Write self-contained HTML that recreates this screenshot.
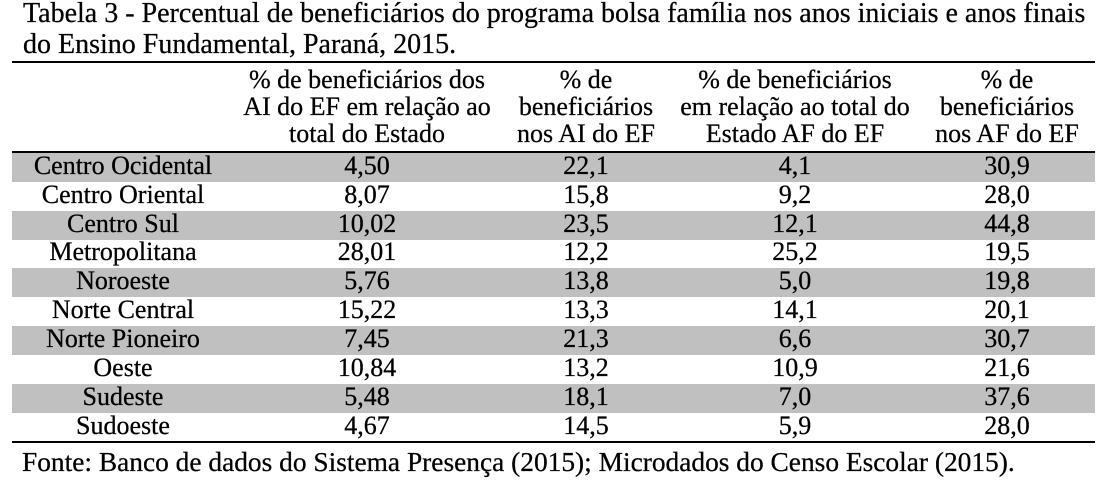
<!DOCTYPE html>
<html>
<head>
<meta charset="utf-8">
<style>
  html, body { margin:0; padding:0; background:#fff; }
  body { width:1103px; height:481px; position:relative; overflow:hidden;
         font-family:"Liberation Serif", "Times New Roman", serif; color:#000;
         -webkit-text-stroke:0.25px #000; }
  .abs { position:absolute; }
  .title { left:23px; top:-1px; font-size:28px; line-height:30.5px; white-space:nowrap; }
  .rule { position:absolute; left:12px; width:1083px; height:2px; background:#000; }
  .stripe { position:absolute; left:12px; width:1083px; height:28.9px; background:#c0c0c0; }
  .hdr { position:absolute; top:65.7px; font-size:26px; line-height:27px; text-align:center; white-space:nowrap; }
  .row { position:absolute; left:0; width:1103px; height:29px; font-size:26px; line-height:28.78px; }
  .row div { position:absolute; top:0; text-align:center; white-space:nowrap; }
  .c1 { left:13px; width:220px; }
  .c2 { left:237px; width:260px; }
  .c3 { left:506px; width:160px; }
  .c4 { left:670px; width:250px; }
  .c5 { left:927px; width:160px; }
  .foot { left:22px; top:446.5px; font-size:27.4px; line-height:30px; white-space:nowrap; }
</style>
</head>
<body>
  <div class="abs title">Tabela 3 - Percentual de beneficiários do programa bolsa família nos anos iniciais e anos finais<br>do Ensino Fundamental, Paraná, 2015.</div>

  <div class="rule" style="top:61px;"></div>

  <div class="hdr c2">% de beneficiários dos<br>AI do EF em relação ao<br>total do Estado</div>
  <div class="hdr c3">% de<br>beneficiários<br>nos AI do EF</div>
  <div class="hdr c4">% de beneficiários<br>em relação ao total do<br>Estado AF do EF</div>
  <div class="hdr c5">% de<br>beneficiários<br>nos AF do EF</div>

  <div class="rule" style="top:151px;"></div>

  <div class="stripe" style="top:153px;"></div>
  <div class="stripe" style="top:210.74px;"></div>
  <div class="stripe" style="top:268.48px;"></div>
  <div class="stripe" style="top:326.22px;"></div>
  <div class="stripe" style="top:383.96px;"></div>

  <div class="row" style="top:151.83px;"><div class="c1">Centro Ocidental</div><div class="c2">4,50</div><div class="c3">22,1</div><div class="c4">4,1</div><div class="c5">30,9</div></div>
  <div class="row" style="top:180.70px;"><div class="c1">Centro Oriental</div><div class="c2">8,07</div><div class="c3">15,8</div><div class="c4">9,2</div><div class="c5">28,0</div></div>
  <div class="row" style="top:209.57px;"><div class="c1">Centro Sul</div><div class="c2">10,02</div><div class="c3">23,5</div><div class="c4">12,1</div><div class="c5">44,8</div></div>
  <div class="row" style="top:238.44px;"><div class="c1">Metropolitana</div><div class="c2">28,01</div><div class="c3">12,2</div><div class="c4">25,2</div><div class="c5">19,5</div></div>
  <div class="row" style="top:267.31px;"><div class="c1">Noroeste</div><div class="c2">5,76</div><div class="c3">13,8</div><div class="c4">5,0</div><div class="c5">19,8</div></div>
  <div class="row" style="top:296.18px;"><div class="c1">Norte Central</div><div class="c2">15,22</div><div class="c3">13,3</div><div class="c4">14,1</div><div class="c5">20,1</div></div>
  <div class="row" style="top:325.05px;"><div class="c1">Norte Pioneiro</div><div class="c2">7,45</div><div class="c3">21,3</div><div class="c4">6,6</div><div class="c5">30,7</div></div>
  <div class="row" style="top:353.92px;"><div class="c1">Oeste</div><div class="c2">10,84</div><div class="c3">13,2</div><div class="c4">10,9</div><div class="c5">21,6</div></div>
  <div class="row" style="top:382.79px;"><div class="c1">Sudeste</div><div class="c2">5,48</div><div class="c3">18,1</div><div class="c4">7,0</div><div class="c5">37,6</div></div>
  <div class="row" style="top:411.66px;"><div class="c1">Sudoeste</div><div class="c2">4,67</div><div class="c3">14,5</div><div class="c4">5,9</div><div class="c5">28,0</div></div>

  <div class="rule" style="top:441px;"></div>

  <div class="abs foot">Fonte: Banco de dados do Sistema Presença (2015); Microdados do Censo Escolar (2015).</div>
</body>
</html>
